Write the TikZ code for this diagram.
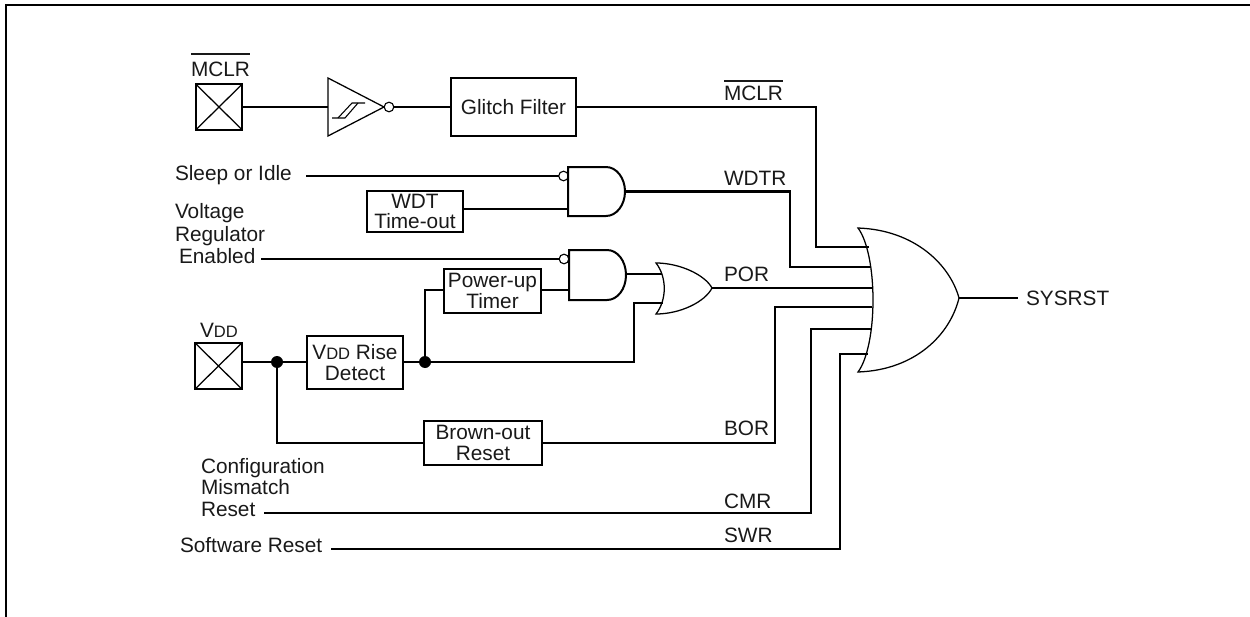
\documentclass[tikz,border=0pt]{standalone}
\usepackage{fontspec}
\setmainfont{Liberation Sans}
\newcommand{\barred}[2]{\leavevmode\setbox0\hbox{#2}\rlap{\raisebox{#1}{\rule{\wd0}{1.5pt}}}\box0}
\newcommand{\smallcap}[1]{{\fontsize{12.4pt}{15pt}\selectfont #1}}
\tikzset{
  wire/.style={line width=1.75pt,line cap=butt,line join=miter},
  thinline/.style={line width=0.95pt,line join=miter},
  gateand/.style={line width=1.5pt,fill=white,line join=miter},
  gateor/.style={line width=0.95pt,fill=white,line join=miter},
  blockbox/.style 2 args={draw,line width=1.75pt,rectangle,minimum width=#1*0.75pt,minimum height=#2*0.75pt,
     inner sep=0pt,outer sep=0pt,align=center,font=\fontsize{15.6pt}{15.4pt}\selectfont,text=black!90},
  padbox/.style={draw,line width=1.5pt,rectangle,minimum width=35pt,minimum height=34.5pt,inner sep=0pt,outer sep=0pt},
  lbl/.style={anchor=base west,inner sep=0pt,outer sep=0pt,font=\fontsize{15.6pt}{18pt}\selectfont,text=black!90},
  bubble/.style={draw,circle,fill=white,line width=0.85pt,minimum size=7.2pt,inner sep=0pt,outer sep=0pt},
  jointdot/.style={circle,fill=black,minimum size=9pt,inner sep=0pt,outer sep=0pt},
}
\begin{document}
\begin{tikzpicture}[x=0.75pt,y=-0.75pt]
\useasboundingbox (0,0) rectangle (1250,617);
\draw[line width=2pt] (6,617) coordinate (fa) -- (6,5) -- (1250,5) coordinate (fb);

% pins and free ends
\coordinate (sleepstart) at (306,176);
\coordinate (volstart) at (261,259);
\coordinate (cmrstart) at (264,513);
\coordinate (swrstart) at (331,549);
\coordinate (p1) at (869,247);
\coordinate (p2) at (871,267);
\coordinate (p3) at (873,288);
\coordinate (p4) at (872,307);
\coordinate (p5) at (872,329);
\coordinate (p6) at (868,354);

% MCLR pad
\node[padbox] (mclrpad) at (219,107) {};
\draw[thinline] (mclrpad.north west) -- (mclrpad.south east) (mclrpad.north east) -- (mclrpad.south west);
\node[lbl] (mclrtxt) at (191,77) {\barred{16.5pt}{MCLR}};

% Schmitt inverter
\coordinate (trin) at (328,107);
\coordinate (trout) at (384,107);
\draw[thinline] (trin |- 0,78) -- (trout) -- (trin |- 0,136) -- cycle;
\draw[line width=0.8pt] (332,118) -- (345,118) -- (358,103);
\draw[line width=0.8pt] (338,118) -- (352,103) -- (365,103);
\node[bubble] (invb) at (389,107) {};

\node[blockbox={125}{58}] (glitch) at (513.5,107) {Glitch Filter};
\draw[wire] (mclrpad.east) -- (trin);
\draw[wire] (invb.east) -- (glitch.west);
\draw[wire] (glitch.east) -- (816,107) -- (816,247) -- (p1);
\node[lbl] (mclrr) at (724,101) {\barred{14.2pt}{MCLR}};

% WDT
\node[lbl] (sleeptxt) at (175,180) {Sleep or Idle};
\node[blockbox={96}{41}] (wdt) at (415,211.5) {WDT\\Time-out};
\coordinate (a1in2) at (568,209);
\draw[wire] (wdt.east |- a1in2) -- (a1in2);
\node[bubble] (b1) at (563.5,176) {};
\draw[wire] (sleepstart) -- (b1.west);
\draw[gateand] (568,167) coordinate (a1) -- (606,167) .. controls (616.5,167) and (625,178) .. (625,191.5) .. controls (625,205) and (616.5,216) .. (606,216) -- (568,216) -- cycle;
\coordinate (a1out) at (625,191.5);
\draw[wire] (a1out) -- (790,191.5) -- (790,267) -- (p2);
\node[lbl] (wdtr) at (724,185) {WDTR};

% Voltage regulator
\node[lbl] at (175,218) {Voltage};
\node[lbl] at (175,241) {Regulator};
\node[lbl] at (179,263) {Enabled};
\node[bubble] (b2) at (564,259) {};
\draw[wire] (volstart) -- (b2.west);
\draw[gateand] (569,250) -- (607,250) .. controls (617.5,250) and (626,261) .. (626,275) .. controls (626,289) and (617.5,300) .. (607,300) -- (569,300) -- cycle;
\coordinate (a2out) at (626,274);
\coordinate (a2in2) at (569,290);

% POR OR gate
\coordinate (o1in1) at (663,274);
\coordinate (o1in2) at (663,303);
\coordinate (o1out) at (712,288);
\draw[wire] (a2out) -- (o1in1);
\draw[gateor] (656,263) .. controls (680,263) and (705,275) .. (o1out) .. controls (705,302) and (680,314) .. (656,314) .. controls (667,300) and (667,277) .. (656,263) -- cycle;
\draw[wire] (o1out) -- (p3);
\node[lbl] (por) at (724,281) {POR};

% Vdd chain
\node[lbl] (vddtxt) at (200,337) {V\smallcap{DD}};
\node[padbox] (vddpad) at (218.5,366) {};
\draw[thinline] (vddpad.north west) -- (vddpad.south east) (vddpad.north east) -- (vddpad.south west);
\node[blockbox={96}{53}] (rise) at (355,362.5) {V\smallcap{DD} Rise\\Detect};
\node[jointdot] (d1) at (277,362) {};
\node[jointdot] (d2) at (425,362) {};
\node[blockbox={97}{44}] (put) at (492.5,291) {Power-up\\Timer};
\node[blockbox={118}{44}] (bor) at (483,443) {Brown-out\\Reset};
\draw[wire] (vddpad.east |- d1) -- (d1);
\draw[wire] (d1) -- (rise.west |- d1);
\draw[wire] (rise.east |- d2) -- (d2);
\draw[wire] (d2) -- (425,290) -- (put.west |- 0,290);
\draw[wire] (put.east |- a2in2) -- (a2in2);
\draw[wire] (d2) -- (634,362) -- (634,303) -- (o1in2);
\draw[wire] (d1) -- (277,443) -- (bor.west);
\draw[wire] (bor.east) -- (775,443) -- (775,307) -- (p4);
\node[lbl] (bortxt) at (724,435) {BOR};

% CMR, SWR
\node[lbl] at (201,473) {Configuration};
\node[lbl] at (201,494) {Mismatch};
\node[lbl] at (201,516) {Reset};
\draw[wire] (cmrstart) -- (811,513) -- (811,329) -- (p5);
\node[lbl] (cmr) at (724,508) {CMR};
\node[lbl] at (180,552) {Software Reset};
\draw[wire] (swrstart) -- (840,549) -- (840,354) -- (p6);
\node[lbl] (swr) at (724,542) {SWR};

% big OR
\coordinate (bigout) at (959,298);
\draw[line width=0.95pt,line join=miter] (858,228) .. controls (915,230) and (950,265) .. (bigout) .. controls (950,335) and (915,370) .. (858,372) .. controls (878,345) and (878,255) .. (858,228) -- cycle;
\coordinate (sysend) at (1018,298);
\draw[wire] (bigout) -- (sysend);
\node[lbl] (sys) at (1026,305) {SYSRST};
\end{tikzpicture}
\end{document}
